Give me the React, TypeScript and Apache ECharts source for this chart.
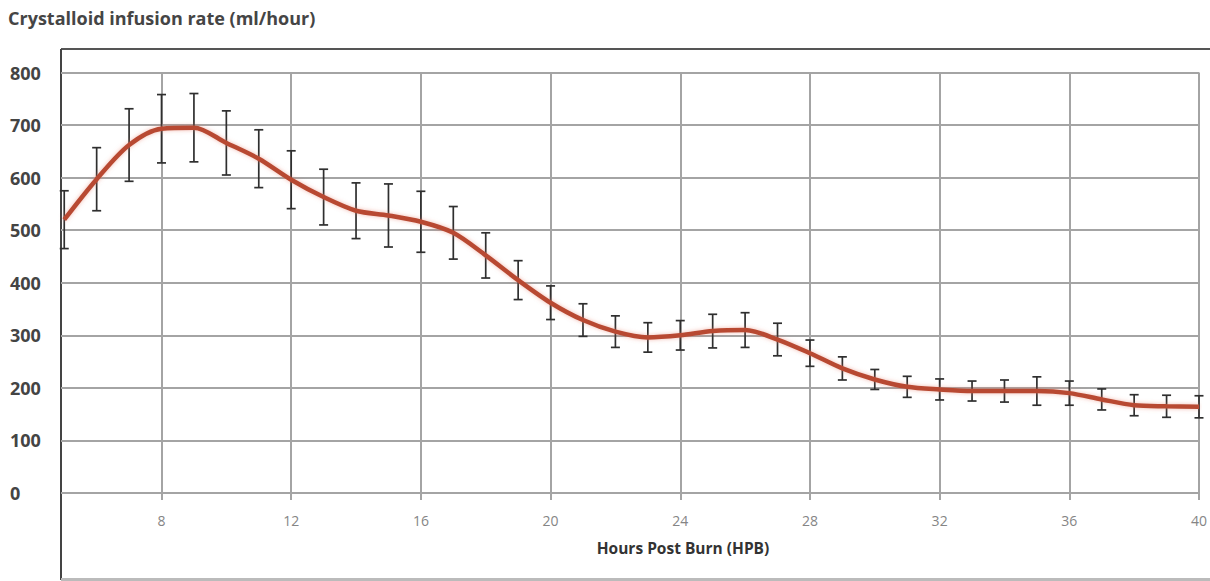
import React, { useEffect, useRef } from "react";
import * as echarts from "echarts";

const hours = [5, 6, 7, 8, 9, 10, 11, 12, 13, 14, 15, 16, 17, 18, 19, 20, 21, 22, 23, 24, 25, 26, 27, 28, 29, 30, 31, 32, 33, 34, 35, 36, 37, 38, 39, 40];
const meanRate = [520, 597, 662, 693, 695, 666, 636, 596, 563, 537, 528, 516, 495, 452, 405, 362, 329, 307, 296, 300, 308, 310, 292, 266, 237, 216, 202, 197, 194, 194, 194, 190, 178, 167, 165, 164];
const errRate = [55, 60, 69, 65, 65, 61, 55, 55, 53, 53, 60, 58, 50, 43, 37, 32, 31, 30, 28, 28, 32, 33, 31, 25, 22, 19, 20, 20, 19, 21, 27, 23, 20, 20, 21, 21];
const xTicks = [8, 12, 16, 20, 24, 28, 32, 36, 40];
const yTicks = [0, 100, 200, 300, 400, 500, 600, 700, 800];

const titleText = "Crystalloid infusion rate (ml/hour)";
const xAxisTitle = "Hours Post Burn (HPB)";

export default function App() {
  const ref = useRef<HTMLDivElement>(null);
  useEffect(() => {
    if (!ref.current) return;
    const chart = echarts.init(ref.current, null, { renderer: "svg" });
    const lineData = hours.map((h, i) => [h, meanRate[i]]);
    const errData = hours.map((h, i) => [h, meanRate[i] - errRate[i], meanRate[i] + errRate[i]]);
    const font = "'Open Sans', 'Noto Sans', sans-serif";
    chart.setOption({
      animation: false,
      backgroundColor: "#ffffff",
      grid: { left: 61, top: 72.5, height: 420.5, right: 5, containLabel: false },
      xAxis: {
        type: "value",
        min: 4.9,
        max: 40,
        axisLine: { show: false },
        axisTick: {
          show: true,
          customValues: xTicks,
          length: 7,
          lineStyle: { color: "#a4a4a4", width: 2 },
        },
        axisLabel: {
          customValues: xTicks,
          color: "#858585",
          fontSize: 14,
          fontFamily: font,
          margin: 20,
        },
        splitLine: { show: true, lineStyle: { color: "#a4a4a4", width: 2 } },
      },
      yAxis: {
        type: "value",
        min: 0,
        max: 800,
        interval: 100,
        axisLine: { show: false },
        axisTick: { show: false },
        axisLabel: {
          customValues: yTicks,
          color: "#444",
          fontSize: 18,
          fontWeight: "bold",
          fontFamily: font,
          align: "left",
          margin: 51,
        },
        splitLine: { show: true, lineStyle: { color: "#a4a4a4", width: 2 } },
      },
      graphic: [
        {
          type: "text",
          left: 8,
          top: 9,
          style: { text: titleText, font: `bold 18px ${font}`, fill: "#454545" },
        },
        {
          type: "text",
          x: 683,
          y: 548,
          style: { text: xAxisTitle, font: `bold 15.5px ${font}`, fill: "#333", align: "center", verticalAlign: "middle" },
        },
        { type: "line", shape: { x1: 61, y1: 49, x2: 1210, y2: 49 }, style: { stroke: "#555", lineWidth: 2 } },
        { type: "line", shape: { x1: 61, y1: 49, x2: 61, y2: 580 }, style: { stroke: "#444", lineWidth: 2 } },
        { type: "line", shape: { x1: 61, y1: 579.5, x2: 1210, y2: 579.5 }, style: { stroke: "#bbb", lineWidth: 3 } },
      ],
      series: [
        {
          type: "custom",
          data: errData,
          z: 2,
          renderItem: (params: any, api: any) => {
            const x = api.value(0);
            const top = api.coord([x, api.value(2)]);
            const bot = api.coord([x, api.value(1)]);
            const w = 4.5;
            const st = { stroke: "#2f2f2f", lineWidth: 1.7 };
            return {
              type: "group",
              children: [
                { type: "line", shape: { x1: top[0], y1: top[1], x2: bot[0], y2: bot[1] }, style: st },
                { type: "line", shape: { x1: top[0] - w, y1: top[1], x2: top[0] + w, y2: top[1] }, style: st },
                { type: "line", shape: { x1: bot[0] - w, y1: bot[1], x2: bot[0] + w, y2: bot[1] }, style: st },
              ],
            };
          },
        },
        {
          type: "line",
          data: lineData,
          smooth: 0.3,
          symbol: "none",
          z: 3,
          lineStyle: { color: "#b84a32", width: 4.5, shadowColor: "rgba(230,120,100,0.5)", shadowBlur: 4 },
        },
      ],
    });
    return () => chart.dispose();
  }, []);
  return <div ref={ref} style={{ position: "absolute", left: 0, top: 0, width: 1210, height: 581 }} />;
}
